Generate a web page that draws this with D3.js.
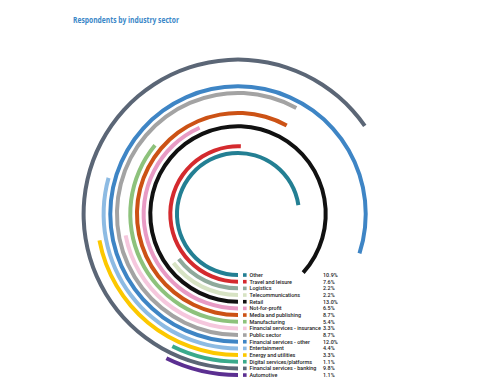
<!DOCTYPE html>
<html>
<head>
<meta charset="utf-8">
<script src="https://cdn.jsdelivr.net/npm/d3@7"></script>
<style>
  body { margin: 0; background: #fff; }
  svg { display: block; }
</style>
</head>
<body>
<svg id="chart"></svg>
<script>
const sectors = ["Other", "Travel and leisure", "Logistics", "Telecommunications", "Retail",
  "Not-for-profit", "Media and publishing", "Manufacturing", "Financial services - insurance",
  "Public sector", "Financial services - other", "Entertainment", "Energy and utilities",
  "Digital services/platforms", "Financial services - banking", "Automotive"];
const shares = [10.9, 7.6, 2.2, 2.2, 13.0, 6.5, 8.7, 5.4, 3.3, 8.7, 12.0, 4.4, 3.3, 1.1, 9.8, 1.1];
const colors = ["#237f93", "#d42a2e", "#8fa99b", "#d7e3c4", "#111111", "#e89ac4", "#cc5215",
  "#8dc27c", "#f5c7dd", "#a3a3a3", "#3e85c5", "#8dbbe3", "#fcc800", "#3aaa8c", "#5b6676", "#5b2f91"];

const data = sectors.map((s, i) => ({ name: s, value: shares[i], color: colors[i] }));

const width = 483, height = 389;
const cx = 238, cy = 214;

const svg = d3.select("#chart").attr("width", width).attr("height", height);

svg.append("text")
  .attr("x", 73).attr("y", 23)
  .attr("textLength", 106).attr("lengthAdjust", "spacingAndGlyphs")
  .style("font-family", "Open Sans, sans-serif")
  .style("font-weight", "bold")
  .style("font-size", "8.5px")
  .style("fill", "#3a87c8")
  .text("Respondents by industry sector");

// 15% = full circle
const angle = d3.scaleLinear().domain([0, 15]).range([0, 2 * Math.PI]);
const radius = d3.scaleBand().domain(sectors).range([57.7, 164.4])
  .paddingInner(0.4).paddingOuter(0.2);

const arc = d3.arc()
  .innerRadius(d => radius(d.name))
  .outerRadius(d => radius(d.name) + radius.bandwidth())
  .startAngle(Math.PI)
  .endAngle(d => Math.PI + angle(d.value));

const g = svg.append("g").attr("transform", `translate(${cx},${cy})`);

g.selectAll("path")
  .data(data)
  .enter().append("path")
  .attr("d", arc)
  .style("fill", d => d.color);

// legend
const legend = svg.append("g");
const rows = legend.selectAll("g")
  .data(data)
  .enter().append("g")
  .attr("transform", d => `translate(0,${cy + radius(d.name) + radius.bandwidth() / 2})`);

rows.append("rect")
  .attr("x", 243).attr("y", -1.8)
  .attr("width", 3.6).attr("height", 3.6)
  .style("fill", d => d.color);

rows.append("text")
  .attr("x", 249.5).attr("dy", "0.35em")
  .style("font-family", "Roboto, sans-serif")
  .style("font-weight", "500")
  .style("font-size", "5.4px")
  .style("fill", "#1a1a1a")
  .text(d => d.name);

rows.append("text")
  .attr("x", 323).attr("dy", "0.35em")
  .style("font-family", "Roboto, sans-serif")
  .style("font-weight", "500")
  .style("font-size", "5.4px")
  .style("fill", "#1a1a1a")
  .text(d => d.value.toFixed(1) + "%");
</script>
</body>
</html>
